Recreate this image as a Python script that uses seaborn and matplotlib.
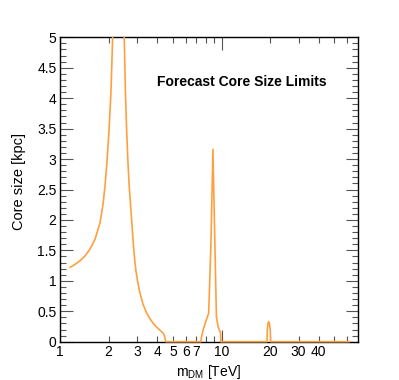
import numpy as np
import pandas as pd
import matplotlib
matplotlib.use("Agg")
import matplotlib.pyplot as plt
from matplotlib.ticker import FixedLocator, FixedFormatter
import seaborn as sns

# ---- data ----
left_m = [1.153, 1.238, 1.330, 1.428, 1.533, 1.646, 1.768, 1.845, 1.898, 1.953, 2.009, 2.068, 2.118]
left_r = [1.22, 1.27, 1.33, 1.41, 1.52, 1.68, 1.95, 2.25, 2.55, 2.95, 3.45, 4.10, 5.00]

right_m = [2.498, 2.541, 2.585, 2.634, 2.683, 2.776, 2.840, 2.877, 2.910, 2.951, 3.016, 3.124,
           3.261, 3.437, 3.603, 3.776, 3.963, 4.154, 4.354, 4.416, 4.524, 5.5, 6.5, 7.44,
           7.52, 7.69, 7.99, 8.33, 8.60, 8.85, 9.10, 9.30, 9.52, 9.86, 9.90, 12.0, 15.0,
           19.15, 19.2, 19.4, 19.6, 19.8, 20.05, 20.15, 30.0, 45.0, 62.0]
right_r = [5.00, 4.10, 3.48, 2.95, 2.55, 2.00, 1.63, 1.46, 1.31, 1.17, 1.01, 0.80,
           0.62, 0.47, 0.38, 0.30, 0.24, 0.19, 0.14, 0.11, 0.00, 0.00, 0.00, 0.00,
           0.08, 0.19, 0.33, 0.47, 1.60, 3.16, 1.60, 0.41, 0.25, 0.14, 0.00, 0.00, 0.00,
           0.00, 0.18, 0.30, 0.33, 0.30, 0.18, 0.00, 0.00, 0.00, 0.00]

x_label_ticks = [2, 3, 4, 5, 6, 7, 8, 9, 20, 30, 40, 50, 60]
x_label_text = ["2", "3", "4", "5", "6", "7", "", "", "20", "30", "40", "", ""]

title_text = "Forecast Core Size Limits"
xlabel_text = r"m$_{\mathrm{DM}}$ [TeV]"
ylabel_text = "Core size [kpc]"

df = pd.DataFrame({
    "m": left_m + right_m,
    "r": left_r + right_r,
    "seg": [0] * len(left_m) + [1] * len(right_m),
})

# ---- style ----
sns.set_style("white")
plt.rcParams["font.family"] = ["Liberation Sans", "DejaVu Sans"]
plt.rcParams["mathtext.fontset"] = "custom"
plt.rcParams["mathtext.rm"] = "Liberation Sans"
plt.rcParams["mathtext.it"] = "Liberation Sans:italic"
plt.rcParams["text.color"] = "black"
plt.rcParams["axes.labelcolor"] = "black"
plt.rcParams["xtick.labelcolor"] = "black"
plt.rcParams["ytick.labelcolor"] = "black"

fig = plt.figure(figsize=(3.99, 3.80), dpi=100)
ax = fig.add_axes([0.1504, 0.1008, 0.7468, 0.801])

sns.lineplot(data=df, x="m", y="r", units="seg", estimator=None, sort=False,
             color="#ffa040", linewidth=1.2, ax=ax, clip_on=False, zorder=5)

ax.set_xscale("log")
ax.set_xlim(1, 70)
ax.set_ylim(0, 5)

ax.xaxis.set_major_locator(FixedLocator([1, 10]))
ax.xaxis.set_major_formatter(FixedFormatter(["1", "10"]))
ax.xaxis.set_minor_locator(FixedLocator(x_label_ticks))
ax.xaxis.set_minor_formatter(FixedFormatter(x_label_text))

ax.set_yticks(np.arange(0, 5.01, 0.5))
ax.set_yticklabels(["0", "0.5", "1", "1.5", "2", "2.5", "3", "3.5", "4", "4.5", "5"])
ax.set_yticks(np.arange(0, 5.01, 0.1), minor=True)

for axis in ("x", "y"):
    ax.tick_params(axis=axis, which="major", direction="in", length=9, width=0.8,
                   color="#555555", labelcolor="black", labelsize=10, pad=2.5,
                   top=True, right=True, bottom=True, left=True)
    ax.tick_params(axis=axis, which="minor", direction="in", length=4.5, width=0.8,
                   color="#555555", labelcolor="black", labelsize=10, pad=2.5,
                   top=True, right=True, bottom=True, left=True)

for s in ax.spines.values():
    s.set_color("black")
    s.set_linewidth(1.0)
    s.set_visible(True)

ax.set_xlabel(xlabel_text, fontsize=10, labelpad=3, color="black")
ax.set_ylabel(ylabel_text, fontsize=10.5, color="black")
ax.yaxis.set_label_coords(-0.115, 0.525)

ax.text(0.324, 0.853, title_text, transform=ax.transAxes, fontsize=10,
        fontweight="bold", ha="left", va="center", color="black")

fig.savefig("out.png", dpi=100)
